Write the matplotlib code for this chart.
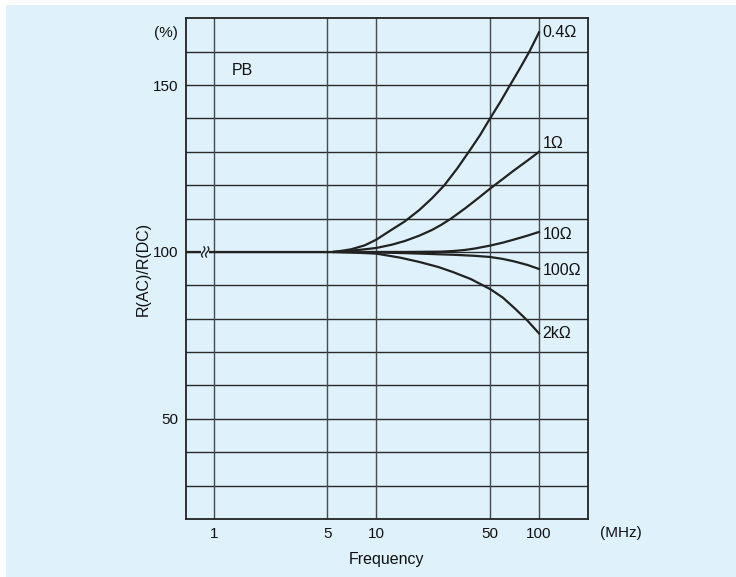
import numpy as np
import matplotlib
matplotlib.use("Agg")
import matplotlib.pyplot as plt
import matplotlib.transforms as mtransforms
from matplotlib.patches import Rectangle

plt.rcParams['font.family'] = ['Liberation Sans', 'DejaVu Sans']

# ---- data ----
flat_freq = [0.673, 5.5]
flat_val = [100, 100]

f_04 = [5.5, 7, 8.5, 10, 12, 15, 18.4, 22, 26.2, 31.4, 37, 43.4, 50, 57.9, 66.4, 76.3, 87.2, 100]
v_04 = [100, 100.8, 102, 103.7, 106.2, 109.2, 112.6, 116.1, 120, 125, 130, 135, 140, 145, 150, 155, 160, 165.8]

f_1 = [5.5, 7, 8.5, 10, 12.5, 15, 18.4, 22, 25, 28.8, 35, 42, 50.1, 60, 70, 85, 100]
v_1 = [100, 100.4, 100.8, 101.2, 102.2, 103.3, 104.9, 106.6, 108.1, 110, 113.0, 116.0, 119.0, 121.9, 124.4, 127.4, 130]

f_10 = [5.5, 15, 25, 30, 35, 40, 50, 60, 70, 85, 100]
v_10 = [100, 100, 100.1, 100.3, 100.6, 101.0, 101.9, 102.8, 103.7, 104.9, 106]

f_100 = [5.5, 8, 10, 15, 20, 30, 40, 50, 60, 70, 85, 100]
v_100 = [100, 99.9, 99.85, 99.65, 99.45, 99.15, 98.85, 98.5, 97.9, 97.2, 96.1, 94.9]

f_2k = [5.5, 7, 10, 14, 18.4, 24, 29.5, 38, 50, 60, 72, 85, 100]
v_2k = [100, 99.85, 99.5, 98.3, 97.0, 95.5, 94.0, 91.9, 88.9, 86.3, 82.8, 79.4, 75.6]

series = [
    (f_04, v_04, "0.4\u03a9"),
    (f_1, v_1, "1\u03a9"),
    (f_10, v_10, "10\u03a9"),
    (f_100, v_100, "100\u03a9"),
    (f_2k, v_2k, "2k\u03a9"),
]
label_y = [165.7, 132.5, 105.2, 94.3, 75.5]

x_ticks = [1, 5, 10, 50, 100]
x_ticklabels = ["1", "5", "10", "50", "100"]
y_ticks = [50, 100, 150]
y_grid = [30, 40, 50, 60, 70, 80, 90, 100, 110, 120, 130, 140, 150, 160]

# ---- figure ----
W, H = 736, 577
fig = plt.figure(figsize=(W / 100, H / 100), dpi=100)
fig.patch.set_facecolor("white")
bg = "#dff1fb"
fig.patches.append(Rectangle((6 / W, 0), 1 - 6 / W, 1 - 5 / H, transform=fig.transFigure,
                             facecolor=bg, edgecolor="none", zorder=-10))

ax = fig.add_axes([185.7 / W, 1 - 519 / H, (588 - 185.7) / W, (519 - 18.3) / H])
ax.set_facecolor(bg)
ax.set_xscale("log")
ax.set_xlim(0.673, 200)
ax.set_ylim(20, 170)

lc = "#222222"
tc = "#111111"
for y in y_grid:
    ax.axhline(y, color="#2a2a2a", lw=1.0, zorder=1)
for x in x_ticks:
    ax.axvline(x, color="#4a4a4a", lw=1.0, zorder=1)

for s in ax.spines.values():
    s.set_color("#222222")
    s.set_linewidth(1.3)

ax.set_xticks(x_ticks)
ax.set_xticklabels(x_ticklabels)
ax.xaxis.set_minor_locator(matplotlib.ticker.NullLocator())
ax.set_yticks(y_ticks)
ax.tick_params(axis="both", length=0, labelsize=11, colors=tc)
ax.tick_params(axis="x", pad=6)
ax.tick_params(axis="y", pad=5)

ax.set_xlabel("Frequency", fontsize=11.5, labelpad=8, color=tc)
ax.set_ylabel("R(AC)/R(DC)", fontsize=11.5, labelpad=2, color=tc)

# flat part + curves
ax.plot(flat_freq, flat_val, color=lc, lw=1.6, zorder=3, solid_capstyle="butt")
for (f, v, lab), ly in zip(series, label_y):
    ax.plot(f, v, color=lc, lw=1.6, zorder=3)
    ax.text(105, ly, lab, fontsize=11.5, ha="left", va="center", color=tc)

# break marks on the 100 line
tr = fig.dpi_scale_trans + mtransforms.ScaledTranslation(0.887, 100, ax.transData)
ax.plot([-0.04, 0.04], [0, 0], color=bg, lw=3, transform=tr, zorder=4, solid_capstyle="butt")
t = np.linspace(-1, 1, 15)
for dx in [-0.02, 0.02]:
    ax.plot(dx + 0.012 * np.sin(np.pi * t) + 0.008 * t, 0.05 * t,
            color=lc, lw=1.0, transform=tr, zorder=5)

ax.text(1.5, 154.5, "PB", fontsize=11.5, ha="center", va="center", color=tc)

ax.text(-0.02, 165.5, "(%)", transform=mtransforms.blended_transform_factory(ax.transAxes, ax.transData),
        fontsize=11, ha="right", va="center", color=tc)
ax.text(1.03, -0.028, "(MHz)", transform=ax.transAxes, fontsize=11, ha="left", va="center", color=tc)

fig.savefig("out.png", dpi=100, facecolor=fig.get_facecolor())
